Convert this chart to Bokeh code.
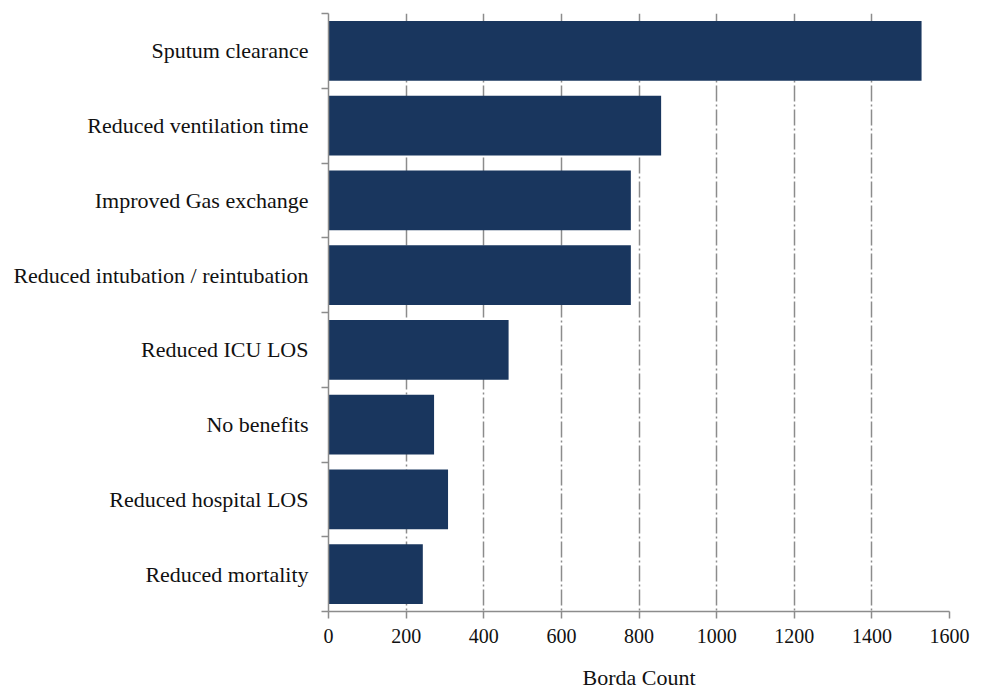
from bokeh.plotting import figure
from bokeh.models import Range1d, FixedTicker, ColumnDataSource
from bokeh.embed import file_html
from bokeh.resources import INLINE

categories = ["Sputum clearance", "Reduced ventilation time", "Improved Gas exchange",
              "Reduced intubation / reintubation", "Reduced ICU LOS", "No benefits",
              "Reduced hospital LOS", "Reduced mortality"]
borda = [1528, 857, 779, 779, 464, 272, 308, 243]
x_ticks = [0, 200, 400, 600, 800, 1000, 1200, 1400, 1600]

n = len(categories)
centers = [i + 0.5 for i in range(n)]
bounds = list(range(n + 1))

src = ColumnDataSource(dict(y=centers, v=borda, c=categories))

FONT = "Liberation Serif"
GRAY = "#8c8c8c"

p = figure(width=976, height=692, output_backend="svg", toolbar_location=None,
           x_range=Range1d(0, 1600), y_range=Range1d(n, 0),
           min_border_left=328, min_border_right=27, min_border_top=13, min_border_bottom=80)
p.outline_line_color = None
p.background_fill_color = "white"
p.border_fill_color = "white"

p.hbar(y="y", right="v", left=0, height=0.8, source=src,
       fill_color="#19365E", line_color=None)

# x axis
xa = p.xaxis[0]
xa.ticker = FixedTicker(ticks=x_ticks, minor_ticks=[])
xa.axis_label = "Borda Count"
xa.axis_label_text_font = FONT
xa.axis_label_text_font_style = "normal"
xa.axis_label_text_font_size = "22px"
xa.axis_label_text_color = "#111111"
xa.axis_label_standoff = 19
xa.major_label_text_font = FONT
xa.major_label_text_font_size = "20px"
xa.major_label_text_color = "#111111"
xa.major_label_standoff = 10
xa.axis_line_color = GRAY
xa.axis_line_width = 1.5
xa.major_tick_line_color = GRAY
xa.major_tick_line_width = 1.5
xa.major_tick_in = 0
xa.major_tick_out = 7

# y axis: labels at centers, ticks at band boundaries (minor)
ya = p.yaxis[0]
ya.ticker = FixedTicker(ticks=centers, minor_ticks=bounds)
ya.major_label_overrides = {c: lab for c, lab in zip(centers, categories)}
ya.major_label_text_font = FONT
ya.major_label_text_font_size = "22px"
ya.major_label_text_color = "#111111"
ya.major_label_standoff = 13
ya.major_tick_line_color = None
ya.major_tick_in = 0
ya.major_tick_out = 0
ya.minor_tick_line_color = GRAY
ya.minor_tick_line_width = 1.5
ya.minor_tick_in = 0
ya.minor_tick_out = 7
ya.axis_line_color = GRAY
ya.axis_line_width = 1.5

p.xgrid.ticker = FixedTicker(ticks=x_ticks)
p.xgrid.grid_line_color = GRAY
p.xgrid.grid_line_width = 1.5
p.xgrid.grid_line_dash = "16 3 2 3"
p.ygrid.grid_line_color = None

open("out.html", "w").write(file_html(p, INLINE))
